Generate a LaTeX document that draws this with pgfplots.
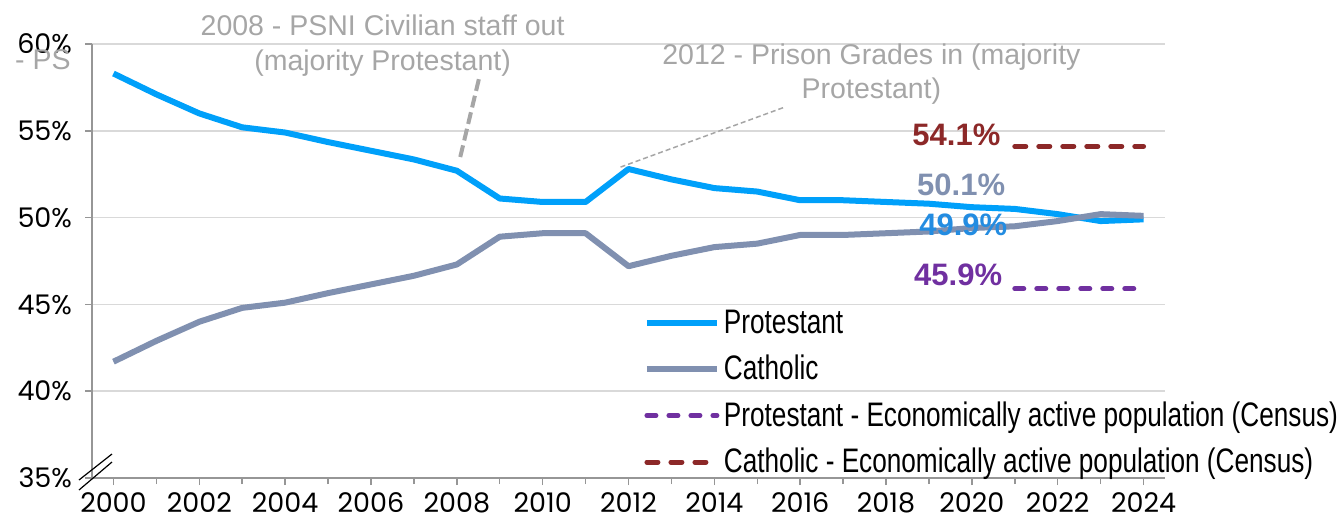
\documentclass[border=0pt]{standalone}
\usepackage{pgfplots}
\pgfplotsset{compat=1.18}
\usepackage{pgfplotstable}
\usepackage{fontspec}
\setmainfont{Liberation Sans}
\newfontfamily\tickfont{Poppins}
\newfontfamily\legfont[FakeStretch=0.77]{Liberation Sans}
\definecolor{prot}{RGB}{0,160,250}
\definecolor{cath}{RGB}{128,144,176}
\definecolor{purp}{RGB}{112,48,160}
\definecolor{dred}{RGB}{140,40,40}
\definecolor{lblue}{RGB}{35,140,225}
\definecolor{anngray}{RGB}{166,166,166}
\definecolor{axisgray}{RGB}{150,150,150}
\definecolor{gridgray}{RGB}{217,217,217}
\pgfplotstableread{
year prot cath
2000 58.3 41.7
2001 57.1 42.9
2002 56.0 44.0
2003 55.2 44.8
2004 54.9 45.1
2005 54.35 45.65
2006 53.85 46.15
2007 53.35 46.65
2008 52.7 47.3
2009 51.1 48.9
2010 50.9 49.1
2011 50.9 49.1
2012 52.8 47.2
2013 52.2 47.8
2014 51.7 48.3
2015 51.5 48.5
2016 51.0 49.0
2017 51.0 49.0
2018 50.9 49.1
2019 50.8 49.2
2020 50.6 49.4
2021 50.5 49.5
2022 50.2 49.8
2023 49.8 50.2
2024 49.9 50.1
}\datatable
\pgfplotstableread{
year pcens ccens
2021 45.9 54.1
2024 45.9 54.1
}\census
\begin{document}
\begin{tikzpicture}
\begin{axis}[
  at={(46pt,21pt)}, anchor=south west, scale only axis,
  width=536.5pt, height=217pt,
  xmin=1999.5, xmax=2024.5, ymin=35, ymax=60,
  axis x line*=bottom, axis y line*=left,
  axis line style={draw=axisgray, line width=0.75pt},
  xtick={2000,2002,...,2024}, minor xtick={2001,2003,...,2023},
  xticklabels={2000,2002,2004,2006,2008,2010,2012,2014,2016,2018,2020,2022,2024},
  ytick={35,40,45,50,55,60},
  yticklabels={35\%,40\%,45\%,50\%,55\%,60\%},
  tick align=outside, major tick length=3.5pt, minor tick length=3pt,
  tick style={draw=axisgray, line width=0.75pt},
  ymajorgrids, grid style={draw=gridgray, line width=0.75pt},
  tick label style={font=\tickfont\fontsize{13.5}{15}\selectfont},
  xticklabel style={yshift=-0.5pt},
  yticklabel style={xshift=-3pt},
  clip=false,
  legend style={at={(0.514,0.398)}, anchor=north west, draw=none, fill=none,
    font=\legfont\fontsize{17}{20}\selectfont, row sep=5.5pt, inner sep=0pt},
  legend cell align=left,
  legend image code/.code={\draw[#1] (0pt,0pt) -- (35pt,0pt);},
]
\addplot[prot, line width=3pt, line join=round] table[x=year,y=prot]{\datatable};
\addlegendentry{Protestant}
\addplot[cath, line width=3pt, line join=round] table[x=year,y=cath]{\datatable};
\addlegendentry{Catholic}
\addplot[purp, line width=2.5pt, line cap=round, dash pattern=on 4.5pt off 6.5pt] table[x=year,y=pcens]{\census};
\addlegendentry{Protestant - Economically active population (Census)}
\addplot[dred, line width=2.5pt, line cap=round, dash pattern=on 5.5pt off 6.5pt] table[x=year,y=ccens]{\census};
\addlegendentry{Catholic - Economically active population (Census)}
\node[font=\fontsize{14.25}{17.5}\selectfont, text=anngray, align=center] at (axis cs:2006.27,59.9) {2008 - PSNI Civilian staff out\\(majority Protestant)};
\node[font=\fontsize{14.25}{17}\selectfont, text=anngray, align=center] at (axis cs:2017.66,58.24) {2012 - Prison Grades in (majority\\Protestant)};
\draw[anngray, line width=2pt, dash pattern=on 6pt off 2.5pt] (axis cs:2008.08,53.49) -- (axis cs:2008.52,58.04);
\draw[anngray, line width=0.75pt, dash pattern=on 2.5pt off 1.5pt] (axis cs:2011.815,52.91) -- (axis cs:2015.645,56.37);
\node[font=\bfseries\fontsize{15.5}{18}\selectfont, text=dred] at (axis cs:2019.64,54.76) {54.1\%};
\node[font=\bfseries\fontsize{15.5}{18}\selectfont, text=cath] at (axis cs:2019.75,51.88) {50.1\%};
\node[font=\bfseries\fontsize{15.5}{18}\selectfont, text=lblue] at (axis cs:2019.80,49.57) {49.9\%};
\node[font=\bfseries\fontsize{15.5}{18}\selectfont, text=purp] at (axis cs:2019.68,46.69) {45.9\%};
\node[font=\fontsize{14.25}{17}\selectfont, text=anngray, anchor=west, inner sep=0pt] at (axis cs:1997.70,59.08) {- PS};
\end{axis}
\draw[black, line width=0.6pt] (39.5pt,20pt) -- (56pt,33pt);
\draw[black, line width=0.6pt] (39.5pt,15pt) -- (56pt,29pt);
\pgfresetboundingbox
\path (0,0) rectangle (668.5pt,260pt);
\end{tikzpicture}
\end{document}
